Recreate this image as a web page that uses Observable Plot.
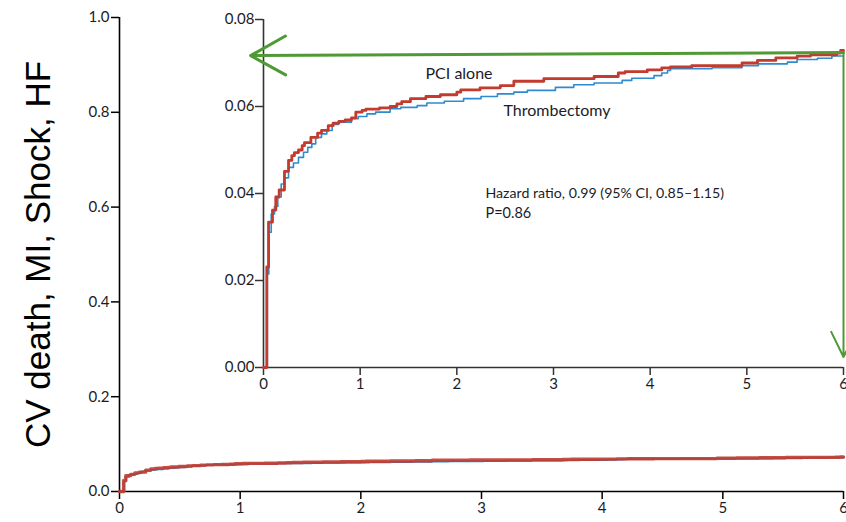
<!DOCTYPE html>
<html><head><meta charset="utf-8">
<script src="https://cdn.jsdelivr.net/npm/d3@7"></script>
<script src="https://cdn.jsdelivr.net/npm/@observablehq/plot@0.6"></script>
<style>
html,body{margin:0;padding:0;background:#fff;}
#wrap{position:relative;width:846px;height:522px;overflow:hidden;}
#wrap svg{position:absolute;left:0;top:0;}
</style></head><body><div id="wrap"></div>
<script>
// Kaplan-Meier cumulative event rates (years, proportion)
const pciTime = [0,0.034,0.052,0.093,0.127,0.162,0.217,0.259,0.293,0.32,0.362,0.40,0.424,0.49,0.56,0.60,0.67,0.72,0.78,0.845,0.91,0.955,1.02,1.06,1.2,1.31,1.38,1.43,1.52,1.68,1.83,2.0,2.04,2.24,2.45,2.59,2.9,3.42,3.67,3.74,3.97,4.12,4.21,4.43,4.95,5.11,5.30,5.52,5.66,5.93,5.97,6.0];
const pciRisk = [0,0.0231,0.0334,0.0362,0.0392,0.0408,0.0451,0.0476,0.0487,0.0494,0.0500,0.0510,0.0517,0.0529,0.0539,0.0545,0.0556,0.0562,0.0566,0.0569,0.0574,0.0587,0.0591,0.0594,0.0597,0.0600,0.0606,0.0611,0.0618,0.0623,0.0627,0.0633,0.0638,0.0643,0.0648,0.0658,0.0664,0.0669,0.0677,0.0680,0.0684,0.0689,0.0691,0.0694,0.0700,0.0706,0.0712,0.0716,0.0719,0.0723,0.0729,0.0729];
const thrTime = [0,0.04,0.055,0.08,0.114,0.148,0.183,0.217,0.259,0.31,0.362,0.414,0.458,0.5,0.54,0.6,0.655,0.71,0.776,0.91,0.98,1.07,1.16,1.31,1.42,1.59,1.69,1.87,2.07,2.25,2.42,2.59,2.73,3.02,3.21,3.42,3.71,3.81,4.04,4.12,4.18,4.21,4.64,4.95,5.12,5.42,5.52,5.73,5.88,6.0];
const thrRisk = [0,0.0215,0.0311,0.0353,0.0370,0.0392,0.0422,0.0436,0.0460,0.0470,0.0483,0.0495,0.0506,0.0514,0.0529,0.0537,0.0545,0.0559,0.0564,0.0572,0.0577,0.0583,0.0587,0.0595,0.0598,0.0602,0.0608,0.0612,0.0618,0.0623,0.0629,0.0633,0.0637,0.0644,0.0650,0.0654,0.0660,0.0665,0.0671,0.0677,0.0683,0.0687,0.0689,0.0694,0.0698,0.0702,0.0708,0.0711,0.0716,0.0716];

const xTicks = [0,1,2,3,4,5,6];
const outerYTicks = [0,0.2,0.4,0.6,0.8,1.0];
const insetYTicks = [0,0.02,0.04,0.06,0.08];
const yLabel = "CV death, MI, Shock, HF";
const annoText = ["PCI alone","Thrombectomy","Hazard ratio, 0.99 (95% CI, 0.85\u20131.15)","P=0.86"];
const annoX = [1.676,2.483,2.296,2.296];
const annoY = [0.0676,0.0591,0.0400,0.0354];
const annoSize = [16,16,14.2,14.5];
// zoom arrows: from end of the curves to the inset axes
const arrowFromX = [6,6], arrowFromY = [0.0724,0.0724];
const arrowToX = [-0.134,6], arrowToY = [0.0717,0.0024];

const pci = pciTime.map((t,i)=>({t, v:pciRisk[i]}));
const thr = thrTime.map((t,i)=>({t, v:thrRisk[i]}));
const RED = "#c23b2e", BLUE = "#2f8bd0", GREEN = "#4f9a34";
const tickFont = "Lato, 'Open Sans', sans-serif";

const outer = Plot.plot({
  width: 846, height: 522,
  marginLeft: 119, marginRight: 3, marginTop: 17, marginBottom: 31,
  style: {fontFamily: tickFont, fontSize: "15px", color: "#1c1c28", background: "transparent"},
  x: {domain: [0,6]},
  y: {domain: [0,1]},
  marks: [
    Plot.axisY({ticks: outerYTicks, tickFormat: d3.format(".1f"), tickSize: 8, tickPadding: 2, label: null, stroke: "#000", strokeWidth: 1.5}),
    Plot.axisX({ticks: xTicks, tickFormat: d3.format("d"), tickSize: 8, tickPadding: 3, label: null, stroke: "#000", strokeWidth: 1.5}),
    Plot.ruleX([0], {stroke: "#000", strokeWidth: 1.6}),
    Plot.ruleY([0], {stroke: "#000", strokeWidth: 1.6}),
    Plot.line(thr, {x: "t", y: "v", curve: "step-after", stroke: BLUE, strokeWidth: 2}),
    Plot.line(pci, {x: "t", y: "v", curve: "step-after", stroke: RED, strokeWidth: 3.4, strokeOpacity: 0.9}),
    Plot.text([yLabel], {text: d=>d, frameAnchor: "left", textAnchor: "middle", dx: -81, rotate: -90, fontSize: 35, fontFamily: "'Liberation Sans', Arial, sans-serif", fill: "#000"})
  ]
});

const inset = Plot.plot({
  width: 846, height: 522,
  marginLeft: 263, marginRight: 3, marginTop: 19, marginBottom: 155,
  style: {fontFamily: tickFont, fontSize: "15px", color: "#1c1c28", background: "transparent"},
  x: {domain: [0,6]},
  y: {domain: [0,0.08]},
  marks: [
    Plot.axisY({ticks: insetYTicks, tickFormat: d3.format(".2f"), tickSize: 8, tickPadding: 1, label: null, stroke: "#333", strokeWidth: 1.5}),
    Plot.axisX({ticks: xTicks, tickFormat: d3.format("d"), tickSize: 8, tickPadding: 3, label: null, stroke: "#333", strokeWidth: 1.5}),
    Plot.ruleX([0], {stroke: "#333", strokeWidth: 1.6}),
    Plot.ruleY([0], {stroke: "#333", strokeWidth: 1.6}),
    Plot.line(thr, {x: "t", y: "v", curve: "step-after", stroke: BLUE, strokeWidth: 1.6}),
    Plot.line(pci, {x: "t", y: "v", curve: "step-after", stroke: RED, strokeWidth: 2.8}),
    Plot.arrow([0], {x1: ()=>arrowFromX[0], y1: ()=>arrowFromY[0], x2: ()=>arrowToX[0], y2: ()=>arrowToY[0], stroke: GREEN, strokeWidth: 3, headLength: 20, headAngle: 58}),
    Plot.arrow([1], {x1: ()=>arrowFromX[1], y1: ()=>arrowFromY[1], x2: ()=>arrowToX[1], y2: ()=>arrowToY[1], stroke: GREEN, strokeWidth: 2, headLength: 21, headAngle: 52}),
    Plot.text(annoText, {x: (d,i)=>annoX[i], y: (d,i)=>annoY[i], text: d=>d, textAnchor: "start", fontSize: (d,i)=>annoSize[i], fontFamily: tickFont, fill: "#1c1c28"})
  ]
});

const wrap = document.getElementById("wrap");
wrap.appendChild(outer);
wrap.appendChild(inset);
</script></body></html>
